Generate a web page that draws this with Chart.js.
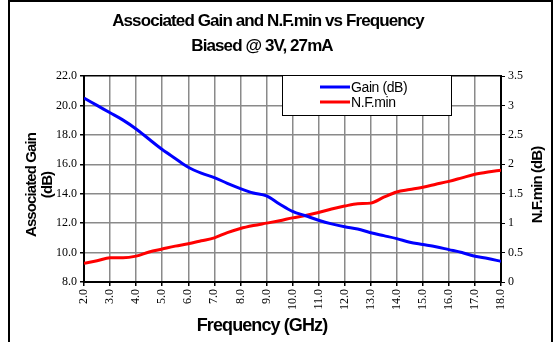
<!DOCTYPE html>
<html>
<head>
<meta charset="utf-8">
<script src="https://cdn.jsdelivr.net/npm/chart.js@4.4.1/dist/chart.umd.min.js"></script>
<style>
  body { margin: 0; background: #fff; }
  #wrap { width: 554px; height: 342px; position: relative; }
</style>
</head>
<body>
<div id="wrap"><canvas id="gainChart"></canvas></div>
<script>
// frequency in GHz
const freq = [2.0, 2.5, 3.0, 3.5, 4.0, 4.5, 5.0, 5.5, 6.0, 6.5, 7.0, 7.5, 8.0, 8.5, 9.0, 9.5, 10.0,
              10.5, 11.0, 11.5, 12.0, 12.5, 13.0, 13.5, 14.0, 14.5, 15.0, 15.5, 16.0, 16.5, 17.0, 17.5, 18.0];
// associated gain (dB), left axis
const gain = [20.5, 20.0, 19.5, 19.0, 18.4, 17.7, 17.0, 16.4, 15.8, 15.4, 15.1, 14.7, 14.35, 14.05, 13.85, 13.3, 12.8,
              12.5, 12.2, 11.95, 11.75, 11.6, 11.35, 11.15, 10.95, 10.7, 10.55, 10.4, 10.2, 10.0, 9.75, 9.6, 9.4];
// N.F.min (dB), right axis
const nfMin = [0.32, 0.36, 0.41, 0.41, 0.44, 0.51, 0.56, 0.61, 0.65, 0.70, 0.75, 0.84, 0.91, 0.96, 1.0, 1.04, 1.09,
               1.13, 1.18, 1.24, 1.29, 1.33, 1.34, 1.44, 1.53, 1.57, 1.61, 1.66, 1.71, 1.77, 1.83, 1.87, 1.90];
const seriesNames = ['Gain (dB)', 'N.F.min'];
const titleLines = ['Associated Gain and N.F.min vs Frequency', 'Biased @ 3V, 27mA'];

const serif = "'Liberation Serif', 'DejaVu Serif', 'Times New Roman', serif";
const sans = "'Liberation Sans', Arial, sans-serif";

// frame, titles, right axis title and the boxed legend
const decorations = {
  id: 'decorations',
  afterDraw(chart) {
    const c = chart.ctx;
    const a = chart.chartArea;
    c.save();
    c.strokeStyle = '#000';
    c.lineWidth = 2;
    c.strokeRect(9, 1, 543, 350);

    c.fillStyle = '#000';
    c.textAlign = 'center';
    c.textBaseline = 'middle';
    c.letterSpacing = '-0.9px';
    c.font = 'bold 17px ' + sans;
    c.fillText(titleLines[0], 268, 21);
    c.fillText(titleLines[1], 262, 46);

    c.font = 'bold 18px ' + sans;
    c.fillText('Frequency (GHz)', 262, 326);

    c.font = 'bold 15px ' + sans;
    c.save();
    c.translate(32, 185);
    c.rotate(-Math.PI / 2);
    c.fillText('Associated Gain', 0, 0);
    c.fillText('(dB)', 0, 16);
    c.restore();

    c.save();
    c.translate(538, 185);
    c.rotate(-Math.PI / 2);
    c.fillText('N.F.min (dB)', 0, 0);
    c.restore();

    // legend box
    const lx = a.left + 198, ly = a.top - 1;
    c.fillStyle = '#fff';
    c.fillRect(lx, ly, 169, 40);
    c.lineWidth = 1;
    c.strokeStyle = '#000';
    c.strokeRect(lx + 0.5, ly + 0.5, 169, 40);
    c.font = '14px ' + sans;
    c.letterSpacing = '-0.4px';
    c.textAlign = 'left';
    chart.data.datasets.forEach((ds, i) => {
      const y = ly + 12 + i * 15;
      c.strokeStyle = ds.borderColor;
      c.lineWidth = 3;
      c.beginPath();
      c.moveTo(lx + 38, y);
      c.lineTo(lx + 68, y);
      c.stroke();
      c.fillStyle = '#000';
      c.fillText(ds.label, lx + 69, y + 1);
    });
    c.restore();
  }
};

new Chart(document.getElementById('gainChart'), {
  type: 'line',
  data: {
    datasets: [{
      label: seriesNames[0],
      data: freq.map((f, i) => ({ x: f, y: gain[i] })),
      borderColor: '#0000ff',
      borderWidth: 3,
      pointRadius: 0,
      cubicInterpolationMode: 'monotone',
      yAxisID: 'y'
    }, {
      label: seriesNames[1],
      data: freq.map((f, i) => ({ x: f, y: nfMin[i] })),
      borderColor: '#ff0000',
      borderWidth: 3,
      pointRadius: 0,
      cubicInterpolationMode: 'monotone',
      yAxisID: 'y1'
    }]
  },
  options: {
    responsive: true,
    maintainAspectRatio: false,
    animation: false,
    layout: { padding: { top: 76, left: 0, right: 0, bottom: 0 } },
    plugins: {
      legend: { display: false },
      title: { display: false },
      tooltip: { enabled: false }
    },
    scales: {
      x: {
        type: 'linear',
        min: 2, max: 18,
        afterFit: s => { s.height = 60; },
        border: { color: '#000', width: 2 },
        grid: { color: '#8a8a8a', lineWidth: 1.5, tickColor: '#000', tickLength: 4 },
        ticks: {
          stepSize: 1,
          minRotation: 90, maxRotation: 90,
          padding: 3,
          color: '#000',
          font: { family: serif, size: 12 },
          callback: v => v.toFixed(1)
        }
      },
      y: {
        position: 'left',
        min: 8, max: 22,
        afterFit: s => { s.width = 84; },
        border: { color: '#000', width: 2 },
        grid: {
          color: ctx => (ctx.tick && ctx.tick.value === 22) ? '#000' : '#8a8a8a',
          lineWidth: 1.5, tickColor: '#000', tickLength: 4
        },
        ticks: {
          stepSize: 2,
          padding: 3,
          color: '#000',
          font: { family: serif, size: 12 },
          callback: v => v.toFixed(1)
        }
      },
      y1: {
        position: 'right',
        min: 0, max: 3.5,
        afterFit: s => { s.width = 53; },
        border: { color: '#000', width: 2 },
        grid: { drawOnChartArea: false, tickColor: '#000', tickLength: 4 },
        ticks: {
          stepSize: 0.5,
          padding: 3,
          color: '#000',
          font: { family: serif, size: 12 },
          callback: v => String(v)
        }
      }
    }
  },
  plugins: [decorations]
});
</script>
</body>
</html>
